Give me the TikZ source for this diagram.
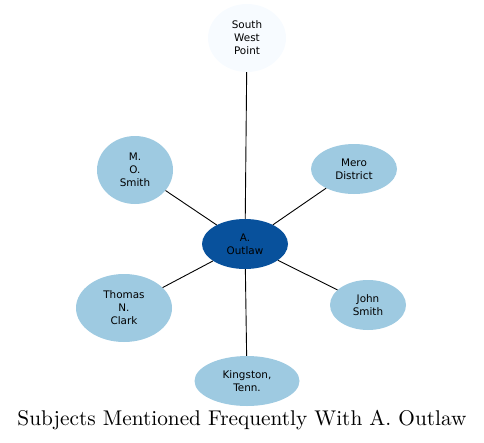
\documentclass[tikz,border=0pt]{standalone}
\usepackage{fontspec}
\usetikzlibrary{shapes.geometric}
\newfontfamily\nodefont{DejaVu Sans}
\newfontfamily\titlefont{lmroman10-regular.otf}
\definecolor{hubblue}{RGB}{8,81,156}
\definecolor{leafblue}{RGB}{158,202,225}
\definecolor{paleblue}{RGB}{247,251,255}
\begin{document}
\begin{tikzpicture}[x=1pt, y=-1pt,
    subject/.style={ellipse, fill=leafblue, inner sep=0pt, align=center,
        font=\nodefont\fontsize{10.4}{13}\selectfont},
    link/.style={draw, black, line width=0.9pt}]
    \useasboundingbox (0,0) rectangle (484,442);

    % sujets
    \node[subject, fill=hubblue, minimum width=86, minimum height=50] (outlaw) at (245,244) {A.\\Outlaw};
    \node[subject, fill=paleblue, minimum width=78, minimum height=68] (swpoint) at (247,38) {South\\West\\Point};
    \node[subject, minimum width=76, minimum height=68] (mosmith) at (135,170) {M.\\O.\\Smith};
    \node[subject, minimum width=86, minimum height=50] (mero) at (354,169) {Mero\\District};
    \node[subject, minimum width=96, minimum height=68] (clark) at (124,308) {Thomas\\N.\\Clark};
    \node[subject, minimum width=76, minimum height=50] (jsmith) at (368,305) {John\\Smith};
    \node[subject, minimum width=105, minimum height=50] (kingston) at (247,381) {Kingston,\\Tenn.};

    \draw[link] (outlaw) -- (swpoint);
    \draw[link] (outlaw) -- (mosmith);
    \draw[link] (outlaw) -- (mero);
    \draw[link] (outlaw) -- (clark);
    \draw[link] (outlaw) -- (jsmith);
    \draw[link] (outlaw) -- (kingston);

    % titre
    \node[font=\titlefont\fontsize{21.3}{26}\selectfont] (title) at (242,420) {Subjects Mentioned Frequently With A. Outlaw};
\end{tikzpicture}
\end{document}
